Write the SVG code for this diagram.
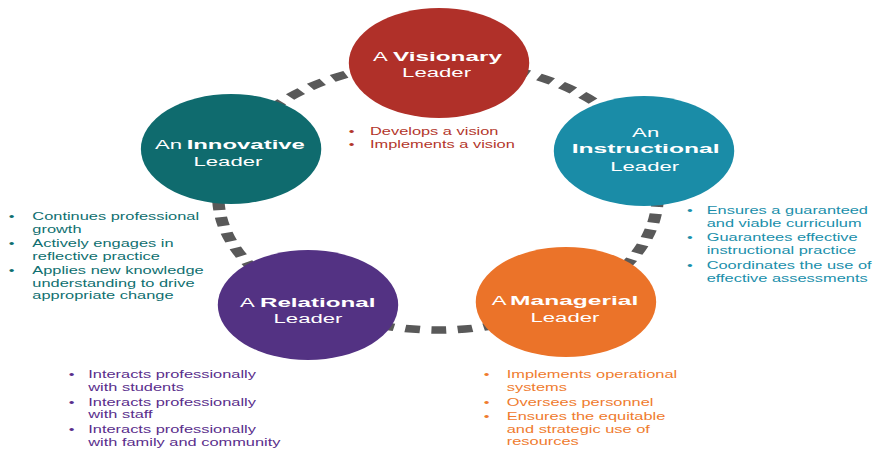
<svg xmlns="http://www.w3.org/2000/svg" width="875" height="450" viewBox="0 0 875 450">
  <style>
    text { font-family: "Liberation Sans", Arial, sans-serif; }
    .title { font-size: 13.5px; fill: #ffffff; }
    .bold { font-weight: bold; }
    .mid { text-anchor: middle; }
    .list { font-size: 10px; }
    .ring { fill: none; stroke: #595959; stroke-width: 7.5; stroke-dasharray: 9 7; }
    .red { fill: #b3362b; }
    .cyan { fill: #1a8fab; }
    .teal { fill: #0f6f70; }
    .purple { fill: #5a2e8c; }
    .orange { fill: #ef7b2e; }
  </style>
  <rect width="875" height="450" fill="#ffffff"/>
  <!-- whole layout is drawn in a horizontally widened frame -->
  <g transform="scale(1.64,1)">
    <g id="connectors">
      <path class="ring" d="M 267 62 A 134 134 0 0 1 393.2 150.8"/>
      <path class="ring" d="M 393.2 150.8 A 134 134 0 0 1 346.5 303.9"/>
      <path class="ring" d="M 346.5 303.9 A 134 134 0 0 1 188.2 304.4"/>
      <path class="ring" d="M 188.2 304.4 A 134 134 0 0 1 141.4 149.5"/>
      <path class="ring" d="M 141.4 149.5 A 134 134 0 0 1 267 62"/>
    </g>

    <g id="visionary">
      <circle cx="267.7" cy="63" r="55" fill="#b03029"/>
      <text class="title" x="227.4" y="61">A</text>
      <text class="title bold" x="239.6" y="61" textLength="66.5" lengthAdjust="spacingAndGlyphs">Visionary</text>
      <text class="title mid" x="266.2" y="77.3">Leader</text>
      <g class="list red">
        <text class="mid" x="214.4" y="135">•</text>
        <text x="225.6" y="135">Develops a vision</text>
        <text class="mid" x="214.4" y="148.3">•</text>
        <text x="225.6" y="148.3">Implements a vision</text>
      </g>
    </g>

    <g id="instructional">
      <circle cx="392.7" cy="151" r="55" fill="#1a8ca7"/>
      <text class="title mid" x="393.7" y="136.7">An</text>
      <text class="title bold" x="348.6" y="153.3" textLength="90.2" lengthAdjust="spacingAndGlyphs">Instructional</text>
      <text class="title mid" x="393.1" y="171">Leader</text>
      <g class="list cyan">
        <text class="mid" x="420.7" y="214">•</text>
        <text x="430.9" y="214">Ensures a guaranteed</text>
        <text x="430.9" y="226.6">and viable curriculum</text>
        <text class="mid" x="420.7" y="241.5">•</text>
        <text x="430.9" y="241.5">Guarantees effective</text>
        <text x="430.9" y="254">instructional practice</text>
        <text class="mid" x="420.7" y="269">•</text>
        <text x="430.9" y="269">Coordinates the use of</text>
        <text x="430.9" y="281.6">effective assessments</text>
      </g>
    </g>

    <g id="managerial">
      <circle cx="345.1" cy="302" r="55" fill="#eb7329"/>
      <text class="title" x="299.8" y="305">A</text>
      <text class="title bold" x="311" y="305" textLength="78.2" lengthAdjust="spacingAndGlyphs">Managerial</text>
      <text class="title mid" x="344.5" y="321.7">Leader</text>
      <g class="list orange">
        <text class="mid" x="296.8" y="378.5">•</text>
        <text x="309" y="378.5">Implements operational</text>
        <text x="309" y="391">systems</text>
        <text class="mid" x="296.8" y="406">•</text>
        <text x="309" y="406">Oversees personnel</text>
        <text class="mid" x="296.8" y="420.5">•</text>
        <text x="309" y="420.5">Ensures the equitable</text>
        <text x="309" y="433">and strategic use of</text>
        <text x="309" y="445.5">resources</text>
      </g>
    </g>

    <g id="relational">
      <circle cx="187.8" cy="305" r="55" fill="#533283"/>
      <text class="title" x="146.3" y="306.7">A</text>
      <text class="title bold" x="158.5" y="306.7" textLength="70.5" lengthAdjust="spacingAndGlyphs">Relational</text>
      <text class="title mid" x="187.8" y="323.3">Leader</text>
      <g class="list purple">
        <text class="mid" x="43.7" y="378.5">•</text>
        <text x="53.8" y="378.5">Interacts professionally</text>
        <text x="53.8" y="391">with students</text>
        <text class="mid" x="43.7" y="406">•</text>
        <text x="53.8" y="406">Interacts professionally</text>
        <text x="53.8" y="418.5">with staff</text>
        <text class="mid" x="43.7" y="433.5">•</text>
        <text x="53.8" y="433.5">Interacts professionally</text>
        <text x="53.8" y="446">with family and community</text>
      </g>
    </g>

    <g id="innovative">
      <circle cx="140.9" cy="149" r="55" fill="#0f6b6e"/>
      <text class="title" x="94.5" y="149.3">An</text>
      <text class="title bold" x="113.8" y="149.3" textLength="72.1" lengthAdjust="spacingAndGlyphs">Innovative</text>
      <text class="title mid" x="139" y="166">Leader</text>
      <g class="list teal">
        <text class="mid" x="7.1" y="220.5">•</text>
        <text x="19.7" y="220.5">Continues professional</text>
        <text x="19.7" y="233">growth</text>
        <text class="mid" x="7.1" y="247.5">•</text>
        <text x="19.7" y="247.5">Actively engages in</text>
        <text x="19.7" y="260">reflective practice</text>
        <text class="mid" x="7.1" y="274.5">•</text>
        <text x="19.7" y="274.5">Applies new knowledge</text>
        <text x="19.7" y="287">understanding to drive</text>
        <text x="19.7" y="299.5">appropriate change</text>
      </g>
    </g>
  </g>
</svg>
